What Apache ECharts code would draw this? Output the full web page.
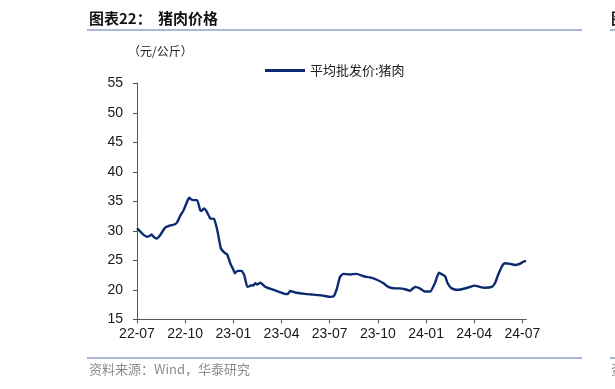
<!DOCTYPE html>
<html><head><meta charset="utf-8">
<script src="https://cdn.jsdelivr.net/npm/echarts@6/dist/echarts.min.js"></script>
<style>html,body{margin:0;padding:0;background:#fff}#c{width:615px;height:389px}</style>
</head><body><div id="c"></div>
<script>
const seriesName = '平均批发价:猪肉';
const dates = [
 '2022-07-01','2022-07-07','2022-07-14','2022-07-20','2022-07-27','2022-07-29','2022-08-02','2022-08-08','2022-08-15','2022-08-24',
 '2022-09-03','2022-09-12','2022-09-17','2022-09-21','2022-09-28','2022-10-06','2022-10-09','2022-10-13','2022-10-17','2022-10-24',
 '2022-10-30','2022-11-02','2022-11-06','2022-11-11','2022-11-18','2022-11-25','2022-12-01','2022-12-08','2022-12-16','2022-12-20',
 '2022-12-26','2023-01-01','2023-01-04','2023-01-09','2023-01-17','2023-01-22','2023-01-28','2023-02-01','2023-02-05','2023-02-08',
 '2023-02-11','2023-02-15','2023-02-20','2023-03-01','2023-03-13','2023-03-26','2023-04-08','2023-04-13','2023-04-17','2023-04-29',
 '2023-05-15','2023-05-28','2023-06-10','2023-06-22','2023-07-02','2023-07-09','2023-07-15','2023-07-21','2023-07-27','2023-08-09',
 '2023-08-22','2023-09-04','2023-09-16','2023-09-29','2023-10-12','2023-10-21','2023-11-03','2023-11-12','2023-11-22','2023-12-01',
 '2023-12-11','2023-12-20','2023-12-30','2024-01-09','2024-01-18','2024-01-26','2024-02-03','2024-02-07','2024-02-11','2024-02-18',
 '2024-02-27','2024-03-08','2024-03-21','2024-04-02','2024-04-11','2024-04-21','2024-05-04','2024-05-10','2024-05-16','2024-05-23',
 '2024-05-29','2024-06-08','2024-06-17','2024-06-26','2024-07-03','2024-07-08'
];
const values = [
 30.4,29.9,29.3,29.0,29.2,29.4,29.0,28.7,29.3,30.5,
 30.9,31.1,31.6,32.4,33.5,35.2,35.6,35.3,35.2,35.2,
 33.5,33.4,33.8,33.3,32.1,32.0,30.1,27.0,26.2,26.0,
 24.5,23.4,22.8,23.2,23.2,22.5,20.5,20.6,20.8,20.7,
 21.1,20.9,21.2,20.5,20.1,19.7,19.3,19.3,19.8,19.5,
 19.3,19.2,19.1,18.95,18.8,18.95,20.25,22.2,22.7,22.6,
 22.7,22.3,22.1,21.7,21.1,20.5,20.25,20.25,20.1,19.85,
 20.5,20.25,19.7,19.7,21.1,22.9,22.5,22.2,21.1,20.25,
 20.0,20.1,20.4,20.7,20.5,20.35,20.5,21.1,22.5,23.9,
 24.5,24.4,24.2,24.4,24.75,24.9
];
const tickLabels = ['22-07','22-10','23-01','23-04','23-07','23-10','24-01','24-04','24-07'];

function monthIndex(s){
  const [y,m,d] = s.split('-').map(Number);
  const dim = new Date(y, m, 0).getDate();
  return (y-2022)*12 + (m-7) + (d-1)/dim;
}
const pts = dates.map((d,i)=>[monthIndex(d), values[i]]);
const tickPos = tickLabels.map((t,i)=>i*3);

const chart = echarts.init(document.getElementById('c'), null, {renderer:'canvas'});
const font = 'Liberation Sans, Arial, sans-serif';
const cjk = '"Noto Sans CJK SC", sans-serif';
chart.setOption({
  animation:false,
  backgroundColor:'#fff',
  grid:{left:137, right:88.6, top:83.3, bottom:69.7, containLabel:false},
  legend:{
    data:[seriesName], left:260, top:59, itemWidth:40, itemHeight:3, itemGap:5,
    icon:'rect',
    textStyle:{fontFamily:cjk, fontSize:13, color:'#222'}
  },
  xAxis:{
    type:'value', min:0, max:24.25,
    axisLine:{lineStyle:{color:'#555', width:1}},
    axisTick:{show:true, length:4, inside:false, customValues:tickPos, lineStyle:{color:'#555'}},
    axisLabel:{customValues:tickPos, margin:8, fontFamily:font, fontSize:14, color:'#1a1a1a',
      formatter:v=>tickLabels[Math.round(v/3)]||''},
    splitLine:{show:false}
  },
  yAxis:{
    type:'value', min:15, max:55, interval:5,
    axisLine:{show:true, lineStyle:{color:'#555', width:1}},
    axisTick:{show:true, length:4, lineStyle:{color:'#555'}},
    axisLabel:{margin:14, fontFamily:font, fontSize:14, color:'#1a1a1a'},
    splitLine:{show:false}
  },
  series:[{
    name:seriesName, type:'line', data:pts, showSymbol:false, symbol:'none',
    lineStyle:{color:'#0b2a70', width:2.4}, itemStyle:{color:'#0b2a70'}, smooth:0.15
  }],
  graphic:[
    {type:'text', left:89, top:11, style:{text:'图表22：', font:'bold 15px '+cjk, fill:'#111'}},
    {type:'text', left:158, top:11, style:{text:'猪肉价格', font:'bold 15px '+cjk, fill:'#111'}},
    {type:'line', shape:{x1:87,y1:30,x2:582,y2:30}, style:{stroke:'#8ea2c4', lineWidth:1.5}},
    {type:'line', shape:{x1:610,y1:30,x2:615,y2:30}, style:{stroke:'#8ea2c4', lineWidth:1.5}},
    {type:'text', left:611, top:11, style:{text:'图', font:'bold 15px '+cjk, fill:'#111'}},
    {type:'text', left:128, top:45, style:{text:'（元/公斤）', font:'12px '+cjk, fill:'#222'}},
    {type:'line', shape:{x1:87,y1:358,x2:582,y2:358}, style:{stroke:'#8ea2c4', lineWidth:1.5}},
    {type:'line', shape:{x1:610,y1:358,x2:615,y2:358}, style:{stroke:'#8ea2c4', lineWidth:1.5}},
    {type:'text', left:89, top:363, style:{text:'资料来源：Wind，华泰研究', font:'13px '+cjk, fill:'#8c8c8c'}},
    {type:'text', left:611, top:363, style:{text:'资', font:'13px '+cjk, fill:'#8c8c8c'}}
  ]
});
</script></body></html>
